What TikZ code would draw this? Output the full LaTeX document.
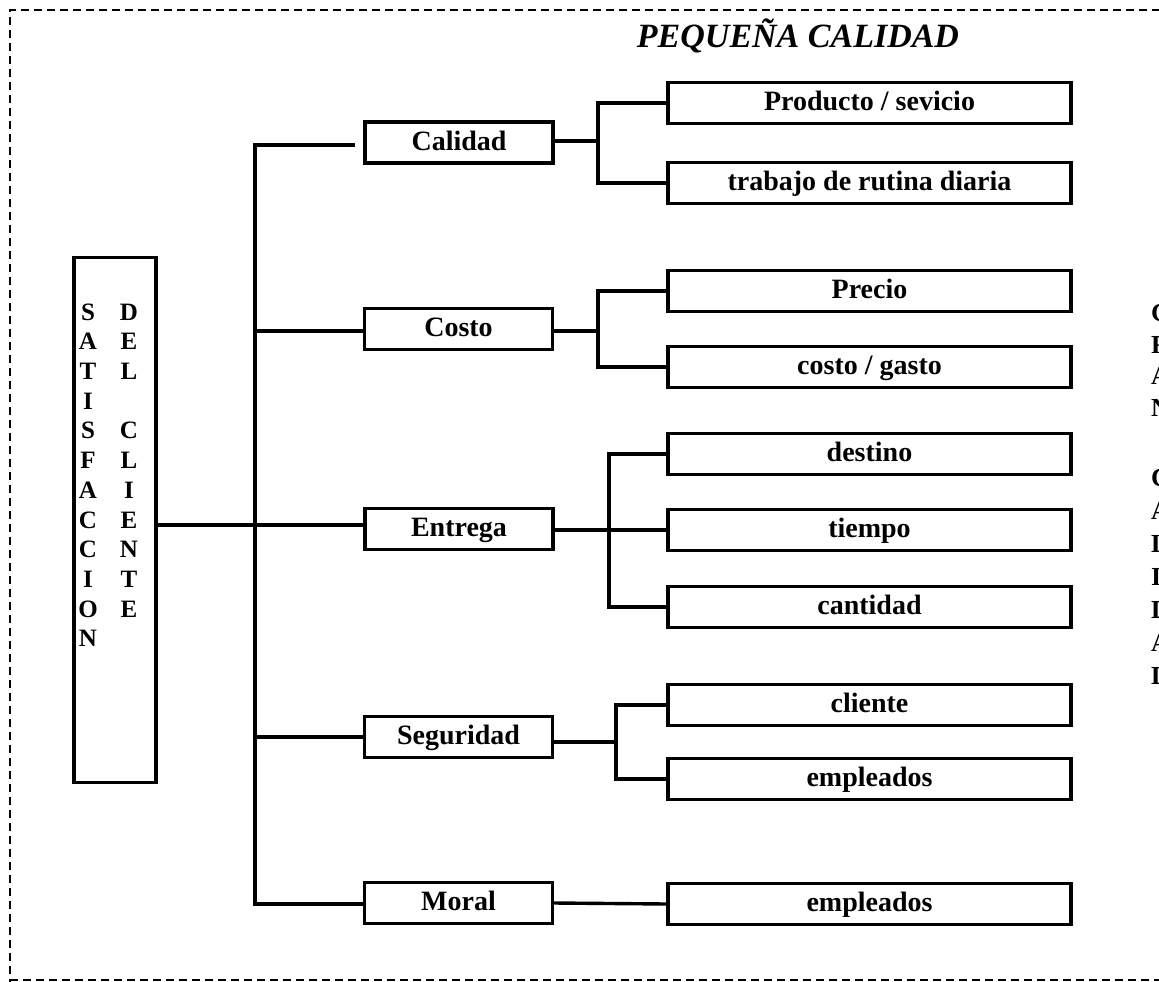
\documentclass[tikz,border=0pt]{standalone}
\usepackage{fontspec}
\setmainfont{Liberation Serif}
\begin{document}
\begin{tikzpicture}[x=1pt,y=-1pt,
  ln/.style={line width=3.4pt, line cap=rect},
  midbox/.style={draw, line width=3.4pt, minimum width=188pt, minimum height=41pt, inner sep=0pt, text height=20pt, text depth=5pt, font=\fontsize{28}{30}\selectfont\bfseries},
  subbox/.style={draw, line width=3.4pt, minimum width=403pt, minimum height=41pt, inner sep=0pt, text height=20pt, text depth=5pt, font=\fontsize{28}{30}\selectfont\bfseries},
  letter/.style={inner sep=0pt, font=\fontsize{25}{25}\selectfont\bfseries},
  bigletter/.style={inner sep=0pt, anchor=west, font=\fontsize{26}{26}\selectfont\bfseries},
  frame/.style={line width=2.2pt, dash pattern=on 8pt off 5pt}]
\useasboundingbox (0,0) rectangle (1159,982);
% dashed frame
\draw[frame] (10,1000) -- (10,10) -- (1200,10);
\draw[frame] (10,980) -- (1200,980);
% title
\node (title) at (798,36) {\fontsize{34}{38}\selectfont\bfseries\itshape PEQUEÑA CALIDAD};
% main box
\node[draw, line width=3.4pt, minimum width=82pt, minimum height=525pt, inner sep=0pt] (main) at (115,520) {};
\foreach \c [count=\i from 0] in {S,A,T,I,S,F,A,C,C,I,O,N}
  \node[letter] (l\i) at (88,{312+29.7*\i}) {\c};
\foreach \c [count=\i from 0] in {D,E,L,{},C,L,I,E,N,T,E}
  \node[letter] (r\i) at (129,{312+29.7*\i}) {\c};
% middle boxes
\node[midbox] (cal) at (459,142.5) {Calidad};
\node[midbox] (cos) at (458.5,329) {Costo};
\node[midbox] (ent) at (459,529) {Entrega};
\node[midbox] (seg) at (458.5,737) {Seguridad};
\node[midbox] (mor) at (458.5,903) {Moral};
% right boxes
\node[subbox] (prod) at (869.5,103) {Producto / sevicio};
\node[subbox] (trab) at (869.5,183) {trabajo de rutina diaria};
\node[subbox] (prec) at (869.5,291) {Precio};
\node[subbox] (gast) at (869.5,367) {costo / gasto};
\node[subbox] (dest) at (869.5,454) {destino};
\node[subbox] (tiem) at (869.5,530) {tiempo};
\node[subbox] (cant) at (869.5,607) {cantidad};
\node[subbox] (clie) at (869.5,705) {cliente};
\node[subbox] (emp1) at (869.5,779) {empleados};
\node[subbox] (emp2) at (869.5,904) {empleados};
% spine
\coordinate (sptop) at (255,145);
\coordinate (spbot) at (255,904);
\coordinate (calgap) at (353,145);
\draw[ln] (calgap) -- (sptop) -- (spbot) -- (mor.west |- spbot);
\draw[ln] (main.east |- 0,525) -- (ent.west |- 0,525);
\draw[ln] (255,331) -- (cos.west |- 0,331);
\draw[ln] (255,737) -- (seg.west);
% calidad bracket
\draw[ln] (cal.east |- 0,141) -- (598,141);
\draw[ln] (prod.west) -- (598,103) -- (598,183) -- (trab.west);
% costo bracket
\draw[ln] (cos.east |- 0,331) -- (598,331);
\draw[ln] (prec.west) -- (598,291) -- (598,367) -- (gast.west);
% entrega bracket
\draw[ln] (ent.east |- 0,530) -- (tiem.west);
\draw[ln] (dest.west) -- (609,454) -- (609,607) -- (cant.west);
% seguridad bracket
\draw[ln] (seg.east |- 0,742) -- (616,742);
\draw[ln] (clie.west) -- (616,705) -- (616,779) -- (emp1.west);
% moral
\draw[ln] (mor.east) -- (emp2.west);
% cut-off right letters (cut by the page edge, as in the reference)
\begin{scope}
\clip (0,0) rectangle (1159,982);
\foreach \c [count=\i from 0] in {G,R,A,N}
  \node[bigletter] (g\i) at (1151,{313+31.5*\i}) {\c};
\foreach \c [count=\i from 0] in {C,A,L,I,D,A,D}
  \node[bigletter] (k\i) at (1151,{478+33*\i}) {\c};
\end{scope}
\end{tikzpicture}
\end{document}
